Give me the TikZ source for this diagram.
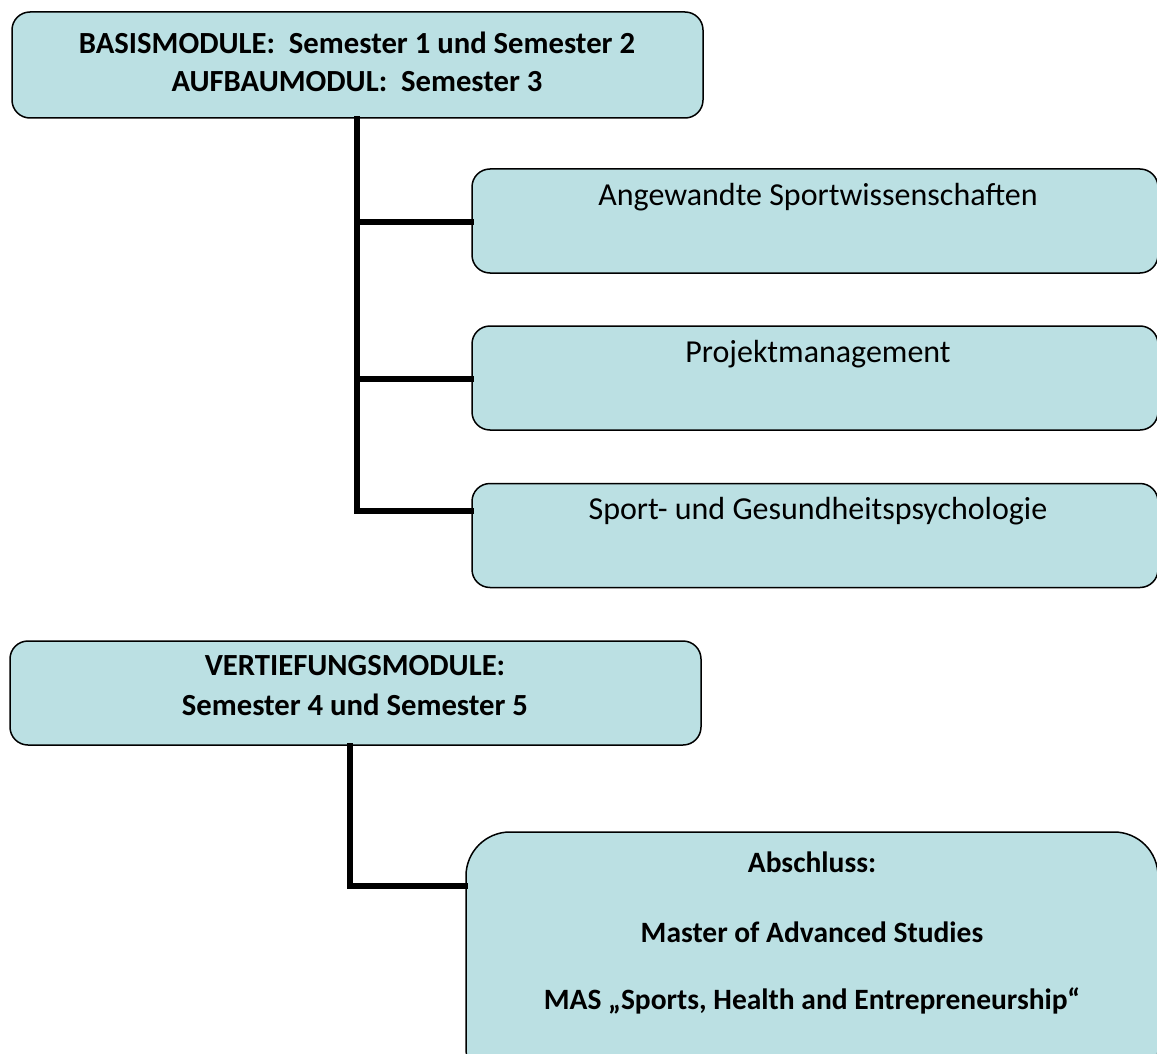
\documentclass[tikz,border=0pt]{standalone}
\usepackage{fontspec}
\setmainfont{Carlito}
\definecolor{boxfill}{RGB}{187,224,227}
\tikzset{
  box/.style={draw=black, line width=1.5pt, fill=boxfill, rounded corners=18pt, inner sep=0pt},
  bigbox/.style={box, rounded corners=44pt},
  conn/.style={line width=6pt, line cap=rect},
  lbl/.style={inner sep=0pt, align=center, font=\fontsize{32}{39}\selectfont},
  blbl/.style={lbl, font=\fontsize{30.7}{39}\selectfont\bfseries},
  slbl/.style={lbl, font=\fontsize{29.5}{32}\selectfont\bfseries},
}
\begin{document}
\begin{tikzpicture}[x=1pt,y=-1pt]
\useasboundingbox (0,0) rectangle (1157,1054);
% boxes
\node[box, minimum width=691pt, minimum height=106pt] (b1) at (357.5,65) {};
\node[box, minimum width=686pt, minimum height=104pt] (b2) at (815,221) {};
\node[box, minimum width=686pt, minimum height=104pt] (b3) at (815,378) {};
\node[box, minimum width=686pt, minimum height=104pt] (b4) at (815,535.5) {};
\node[box, minimum width=691pt, minimum height=104pt] (b5) at (355.5,693) {};
\node[bigbox, minimum width=692pt, minimum height=260pt] (b6) at (812,962) {};
% texts
\node[blbl] (t1a) at (357,43) {BASISMODULE:\ \ Semester 1 und Semester 2};
\node[blbl] (t1b) at (357,82) {AUFBAUMODUL:\ \ Semester 3};
\node[lbl] (t2) at (818,197) {Angewandte Sportwissenschaften};
\node[lbl] (t3) at (818,354) {Projektmanagement};
\node[lbl] (t4) at (818,511) {Sport- und Gesundheitspsychologie};
\node[blbl] (t5a) at (355,666) {VERTIEFUNGSMODULE:};
\node[blbl] (t5b) at (355,705) {Semester 4 und Semester 5};
\node[slbl] (t6a) at (812,862) {Abschluss:};
\node[slbl] (t6b) at (812,932) {Master of Advanced Studies};
\node[slbl] (t6c) at (812,1001) {MAS „Sports, Health and Entrepreneurship“};
% connectors
\coordinate (j2) at (357,222);
\coordinate (j3) at (357,379);
\coordinate (j4) at (357,511);
\coordinate (k6) at (350,886);
\draw[conn] (b1.south -| j2) -- (j4) -- (j4 -| b4.west);
\draw[conn] (j2) -- (j2 -| b2.west);
\draw[conn] (j3) -- (j3 -| b3.west);
\draw[conn] (b5.south -| k6) -- (k6) -- (k6 -| b6.west);
\end{tikzpicture}
\end{document}
